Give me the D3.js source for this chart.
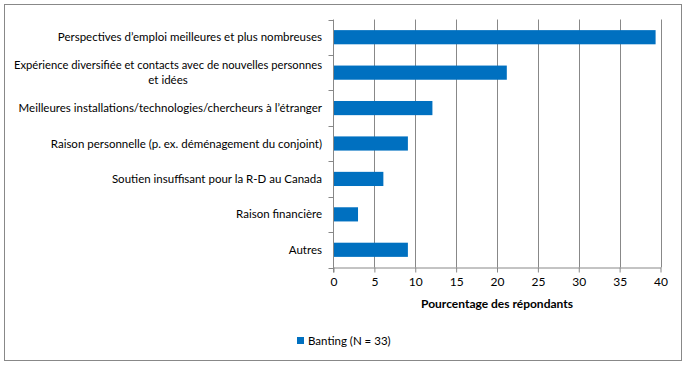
<!DOCTYPE html>
<html><head><meta charset="utf-8">
<script src="https://cdn.jsdelivr.net/npm/d3@7"></script>
<style>body{margin:0;background:#fff}svg{display:block}text{font-family:Lato,"Open Sans",sans-serif}</style>
</head><body>
<svg id="c" width="684" height="366"></svg>
<script>
const categories = [
  ["Perspectives d’emploi meilleures et plus nombreuses"],
  ["Expérience diversifiée et contacts avec de nouvelles personnes", "et idées"],
  ["Meilleures installations/technologies/chercheurs à l’étranger"],
  ["Raison personnelle (p. ex. déménagement du conjoint)"],
  ["Soutien insuffisant pour la R-D au Canada"],
  ["Raison financière"],
  ["Autres"]
];
const values = [39.4, 21.2, 12.1, 9.1, 6.1, 3.0, 9.1];
const xTicks = [0, 5, 10, 15, 20, 25, 30, 35, 40];
const seriesName = "Banting (N = 33)";
const xTitle = "Pourcentage des répondants";

(function(){
const svg = d3.select("#c");
const color = "#0070C0", gridC = "#888";
const pL = 333.5, pR = 660.5, pT = 19.5, pB = 267.5;

svg.append("rect").attr("x",4.5).attr("y",4.5).attr("width",677).attr("height",356)
  .attr("fill","#fff").attr("stroke",gridC).attr("stroke-width",1);

const x = d3.scaleLinear().domain([0,40]).range([pL,pR]);
const y = d3.scaleBand().domain(d3.range(categories.length)).range([pT,pB]).paddingInner(0.6).paddingOuter(0.3);
const yb = d3.scaleBand().domain(d3.range(categories.length)).range([pT,pB]);

// gridlines
svg.append("g").selectAll("line").data(xTicks.slice(1)).join("line")
  .attr("x1",d=>Math.round(x(d))+0.5).attr("x2",d=>Math.round(x(d))+0.5)
  .attr("y1",pT).attr("y2",pB).attr("stroke",gridC);

// bars
svg.append("g").selectAll("rect").data(values).join("rect")
  .attr("x",x(0)).attr("y",(d,i)=>y(i)).attr("width",d=>x(d)-x(0)).attr("height",y.bandwidth())
  .attr("fill",color);

// x axis
const xa = svg.append("g").attr("transform",`translate(0,${pB})`)
  .call(d3.axisBottom(x).tickValues(xTicks).tickSize(5).tickSizeOuter(0));
xa.select(".domain").attr("stroke",gridC);
xa.selectAll(".tick line").attr("stroke",gridC);
xa.selectAll(".tick text").attr("font-family","Lato").attr("font-size",12).attr("fill","#000").attr("dy","0.9em");

// y axis (ticks at boundaries)
svg.append("line").attr("x1",pL).attr("x2",pL).attr("y1",pT).attr("y2",pB+5).attr("stroke",gridC);
svg.append("g").selectAll("line").data(d3.range(categories.length+1)).join("line")
  .attr("x1",pL-5).attr("x2",pL)
  .attr("y1",i=>Math.round(pT + i*yb.step())+0.5).attr("y2",i=>Math.round(pT + i*yb.step())+0.5)
  .attr("stroke",gridC);

// category labels
const lab = svg.append("g");
categories.forEach((lines,i)=>{
  const cy = yb(i)+yb.bandwidth()/2;
  const lh = 14.5;
  const t = lab.append("text").attr("font-size",11.5).attr("fill","#000")
    .attr("text-anchor", lines.length>1 ? "middle" : "end");
  lines.forEach((l,j)=>{
    const tt = t.append("tspan").attr("x", lines.length>1 ? 168 : 322)
      .attr("y", cy + (j-(lines.length-1)/2)*lh).attr("dy","0.35em").text(l);
    if (lines.length>1 && j===0) tt.attr("textLength",308).attr("lengthAdjust","spacingAndGlyphs");
  });
});

// x title
svg.append("text").attr("x",(pL+pR)/2).attr("y",308).attr("text-anchor","middle")
  .attr("font-size",12).attr("font-weight","bold").attr("fill","#000").text(xTitle);

// legend
svg.append("rect").attr("x",297).attr("y",337).attr("width",7).attr("height",7).attr("fill",color);
svg.append("text").attr("x",308).attr("y",340.5).attr("dy","0.35em").attr("font-size",11.5).attr("fill","#000").text(seriesName);
})();
</script>
</body></html>
